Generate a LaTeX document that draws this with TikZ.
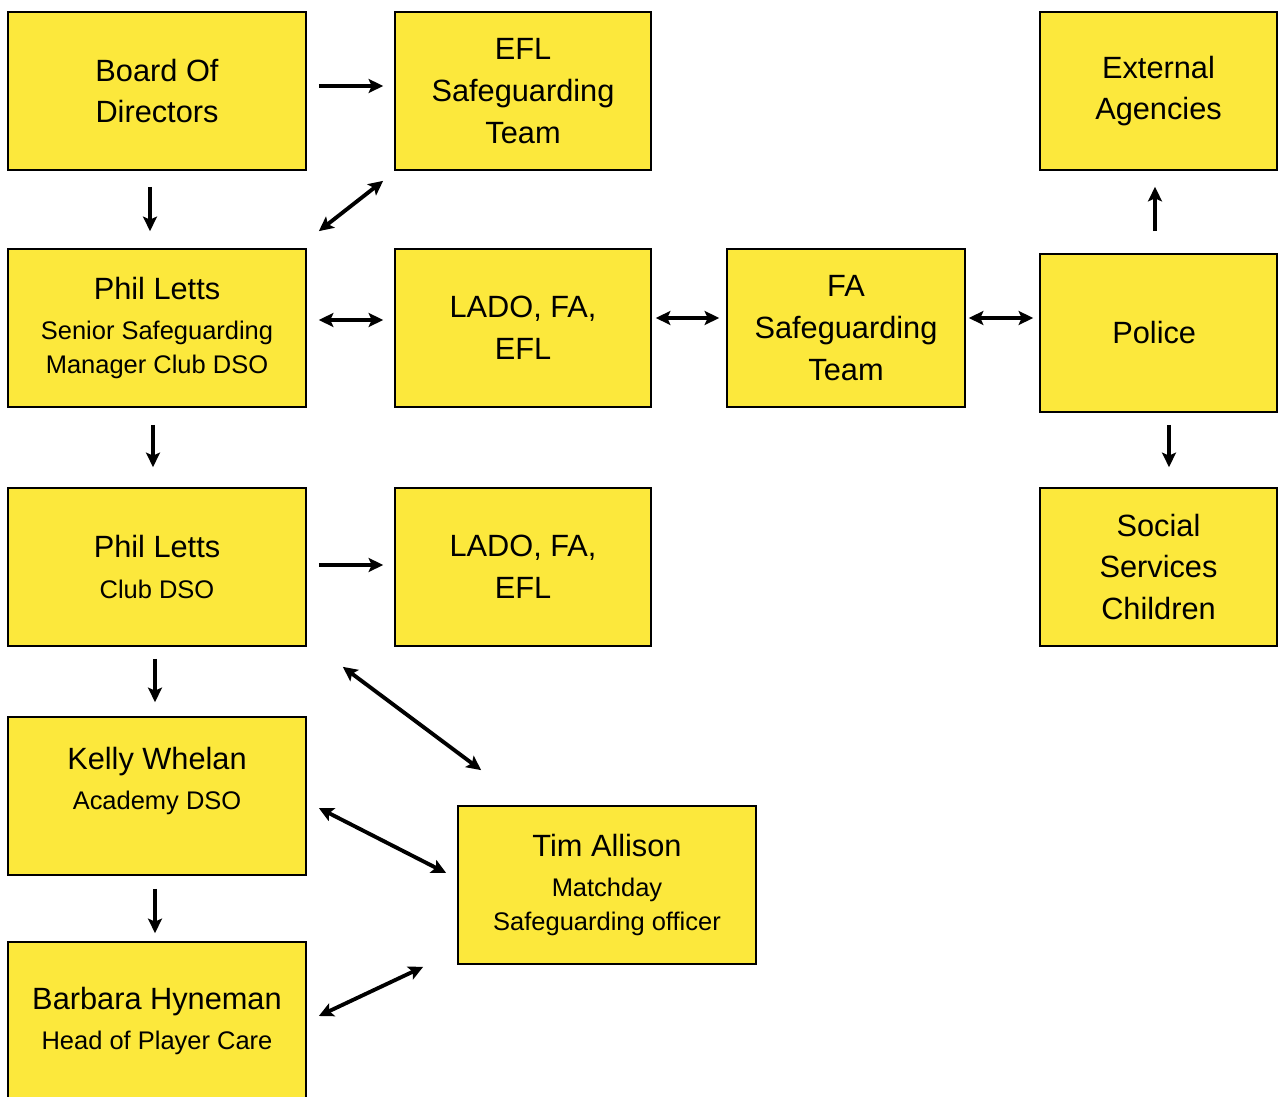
\documentclass[tikz,border=0pt]{standalone}
\usepackage{fontspec}
\setmainfont{Liberation Sans}
\usetikzlibrary{arrows.meta,positioning}
\usepackage{xcolor}
\definecolor{boxyellow}{RGB}{252,232,60}
\newcommand{\role}[1]{{\fontsize{14.5pt}{19.3pt}\selectfont #1}}

\begin{document}
\begin{tikzpicture}[x=0.02cm, y=-0.02cm,
every node/.style={
    rectangle,
    draw,
    line width=1pt,
    fill=boxyellow,
    minimum height=3.16cm,
    minimum width=5.96cm,
    align=center,
    font=\fontsize{17.5pt}{23.8pt}\selectfont
},
link/.style={-{Stealth[length=0.29cm,width=0.28cm,inset=0.06cm]}, line width=2.2pt},
both/.style={{Stealth[length=0.29cm,width=0.28cm,inset=0.06cm]}-{Stealth[length=0.29cm,width=0.28cm,inset=0.06cm]}, line width=2.2pt}]
    \useasboundingbox (0,0) rectangle (1279,1097);

    \node (board) at (157,91)
    {
        Board Of\\Directors
    };

    \node (efl_team) [minimum width=5.12cm] at (523,91)
    {
        EFL\\Safeguarding\\Team
    };

    \node (external) [minimum width=4.74cm] at (1158.5,91)
    {
        External\\Agencies
    };

    \node (phil_senior) at (157,328)
    {
        Phil Letts\\[-1pt]\role{Senior Safeguarding}\\[-4pt]\role{Manager Club DSO}
    };

    \node (lado_top) [minimum width=5.12cm] at (523,328)
    {
        LADO, FA,\\EFL
    };

    \node (fa_team) [minimum width=4.76cm] at (846,328)
    {
        FA\\Safeguarding\\Team
    };

    \node (police) [minimum width=4.74cm] at (1158.5,333)
    {
        Police
    };

    \node (phil_dso) at (157,567)
    {
        Phil Letts\\[-1pt]\role{Club DSO}
    };

    \node (lado_mid) [minimum width=5.12cm] at (523,567)
    {
        LADO, FA,\\EFL
    };

    \node (social) [minimum width=4.74cm] at (1158.5,567)
    {
        Social\\Services\\Children
    };

    \node (kelly) at (157,796)
    {
        Kelly Whelan\\[-1pt]\role{Academy DSO}\\[-4pt]\role{\mbox{}}
    };

    \node (tim) at (607,885)
    {
        Tim Allison\\[-1pt]\role{Matchday}\\[-4pt]\role{Safeguarding officer}
    };

    \node (barbara) at (157,1021)
    {
        Barbara Hyneman\\[-1pt]\role{Head of Player Care}
    };


    \draw[link, shorten <=0.24cm, shorten >=0.22cm] ([yshift=0.1cm]board.east) to ([yshift=0.1cm]efl_team.west);
    \draw[link, shorten <=0.32cm, shorten >=0.34cm] ([xshift=-0.14cm]board.south) to ([xshift=-0.14cm]phil_senior.north);
    \draw[both] ([shift={(-0.22cm,-0.2cm)}]efl_team.south west) to ([shift={(0.24cm,0.34cm)}]phil_senior.north east);

    \draw[both, shorten <=0.24cm, shorten >=0.22cm] ([yshift=0.16cm]phil_senior.east) to ([yshift=0.16cm]lado_top.west);
    \draw[both, shorten <=0.08cm, shorten >=0.14cm] ([yshift=0.2cm]lado_top.east) to ([yshift=0.2cm]fa_team.west);
    \draw[both, shorten <=0.06cm, shorten >=0.12cm] ([yshift=0.2cm]fa_team.east) to ([yshift=0.3cm]police.west);
    \draw[link, shorten <=0.44cm, shorten >=0.32cm] ([xshift=-0.07cm]police.north) to ([xshift=-0.07cm]external.south);
    \draw[link, shorten <=0.24cm, shorten >=0.4cm] ([xshift=0.21cm]police.south) to ([xshift=0.21cm]social.north);

    \draw[link, shorten <=0.34cm, shorten >=0.4cm] ([xshift=-0.08cm]phil_senior.south) to ([xshift=-0.08cm]phil_dso.north);
    \draw[link, shorten <=0.24cm, shorten >=0.22cm] ([yshift=0.04cm]phil_dso.east) to ([yshift=0.04cm]lado_mid.west);
    \draw[link, shorten <=0.24cm, shorten >=0.28cm] ([xshift=-0.04cm]phil_dso.south) to ([xshift=-0.04cm]kelly.north);
    \draw[both] ([shift={(0.72cm,-0.4cm)}]phil_dso.south east) to ([shift={(0.48cm,0.7cm)}]tim.north west);

    \draw[both] ([shift={(0.24cm,-0.24cm)}]kelly.east) to ([shift={(-0.22cm,0.24cm)}]tim.west);
    \draw[link, shorten <=0.26cm, shorten >=0.16cm] ([xshift=-0.04cm]kelly.south) to ([xshift=-0.04cm]barbara.north);
    \draw[both] ([shift={(0.24cm,0.1cm)}]barbara.east) to ([shift={(-0.68cm,-0.04cm)}]tim.south west);
\end{tikzpicture}
\end{document}
